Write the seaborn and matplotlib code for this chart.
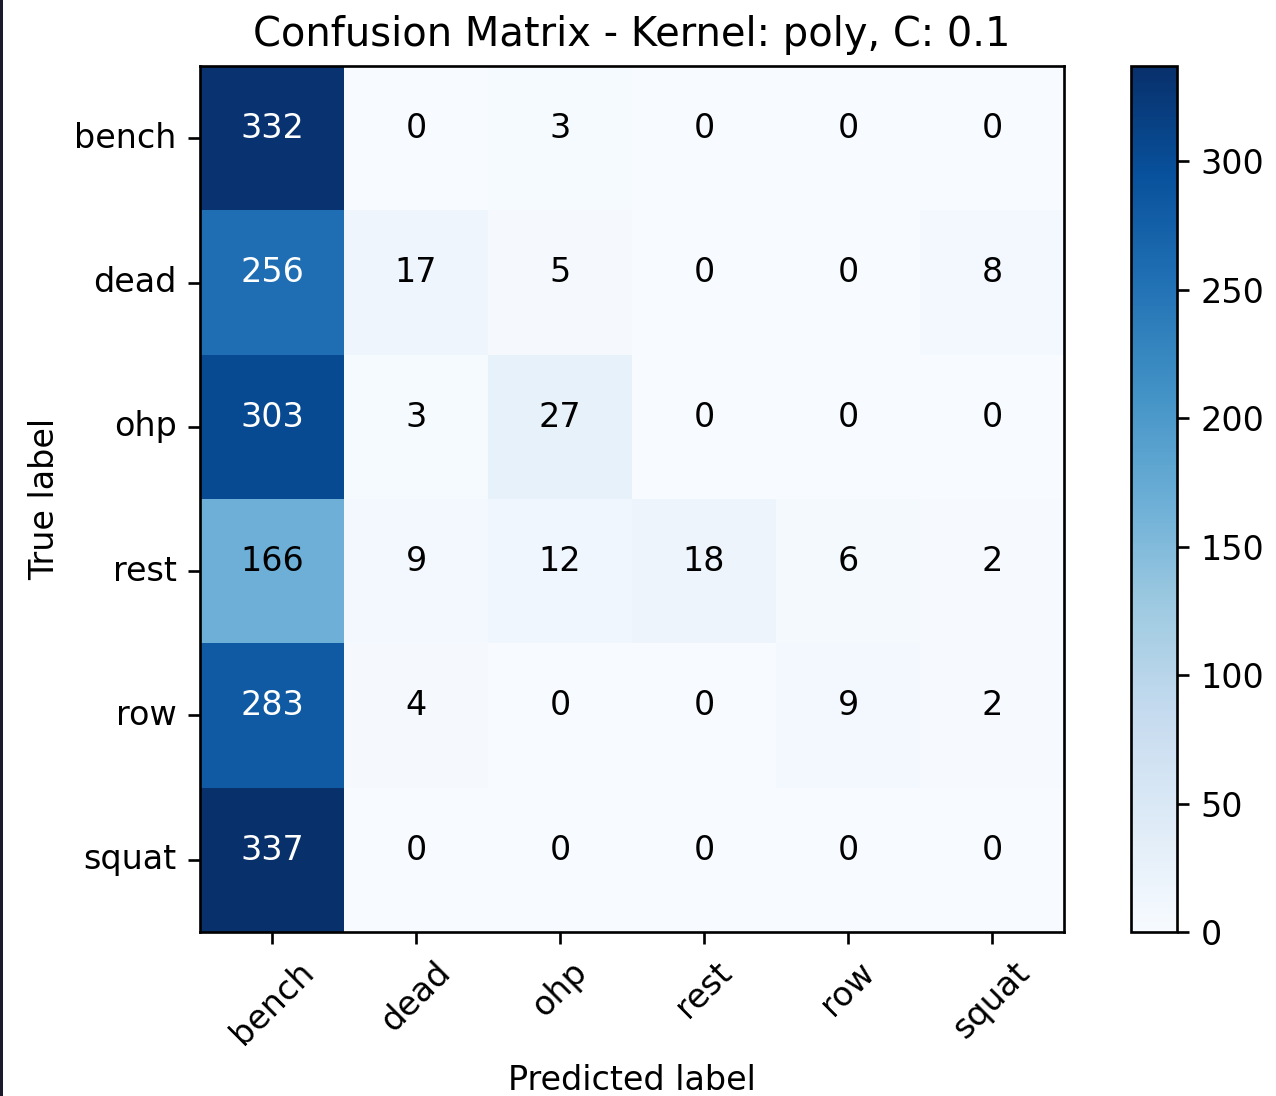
import numpy as np
import pandas as pd
import matplotlib
matplotlib.use("Agg")
import matplotlib.pyplot as plt
from matplotlib.patches import Rectangle
import seaborn as sns

classes = ["bench", "dead", "ohp", "rest", "row", "squat"]
row_bench = [332, 0, 3, 0, 0, 0]
row_dead = [256, 17, 5, 0, 0, 8]
row_ohp = [303, 3, 27, 0, 0, 0]
row_rest = [166, 9, 12, 18, 6, 2]
row_row = [283, 4, 0, 0, 9, 2]
row_squat = [337, 0, 0, 0, 0, 0]
title = "Confusion Matrix - Kernel: poly, C: 0.1"

cm = pd.DataFrame([row_bench, row_dead, row_ohp, row_rest, row_row, row_squat],
                  index=classes, columns=classes)

W, H = 1276, 1096
dpi = 240
fig = plt.figure(figsize=(W / dpi, H / dpi), dpi=dpi)
fig.patch.set_facecolor("white")

ax = fig.add_axes([200 / W, 1 - 932 / H, 864 / W, 866 / H])
cax = fig.add_axes([1131 / W, 1 - 932 / H, 46 / W, 866 / H])

vmax = cm.values.max()
sns.heatmap(cm, ax=ax, cbar_ax=cax, cmap="Blues", vmin=0, vmax=vmax,
            annot=True, fmt="d", annot_kws={"fontsize": 10, "va": "baseline"},
            square=False, linewidths=0)

thresh = vmax / 2.0
vals = cm.values.flatten()
for t, v in zip(ax.texts, vals):
    t.set_color("white" if v > thresh else "black")

for s in ax.spines.values():
    s.set_visible(True)
    s.set_linewidth(0.8)
    s.set_color("black")

cb = ax.collections[0].colorbar
cb.outline.set_visible(True)
cb.outline.set_linewidth(0.8)
cb.outline.set_edgecolor("black")
cb.set_ticks([0, 50, 100, 150, 200, 250, 300])
cax.tick_params(labelsize=10, length=3.5, width=0.8)

ax.set_xticklabels(classes, rotation=45, ha="center", fontsize=10)
ax.set_yticklabels(classes, rotation=0, fontsize=10)
ax.tick_params(axis="both", length=3.5, width=0.8)
ax.set_xlabel("Predicted label", fontsize=10)
ax.set_ylabel("True label", fontsize=10)
ax.set_title(title, fontsize=12)

fig.patches.append(Rectangle((0, 0), 3 / W, 1, transform=fig.transFigure,
                             facecolor="#1b1a2c", edgecolor="none", zorder=10))

fig.savefig("out.png", dpi=dpi, facecolor="white")
